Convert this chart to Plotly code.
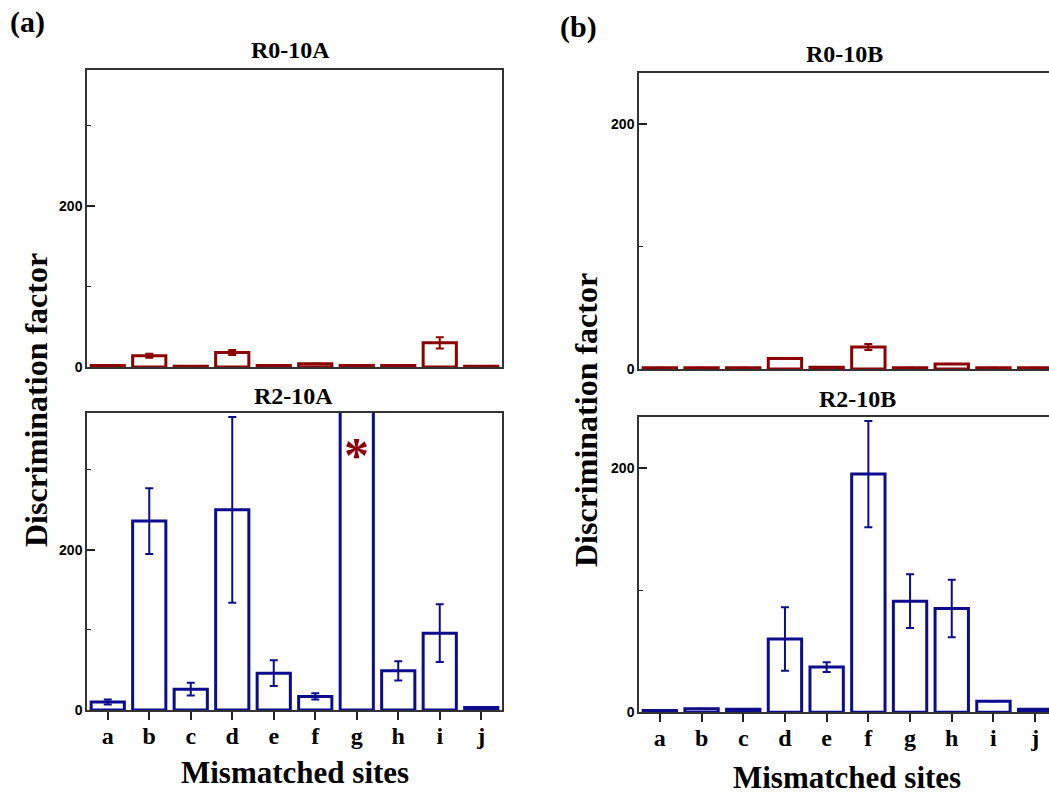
import plotly.graph_objects as go

sites = list("abcdefghij")

r0_10a = [2, 14, 1, 18, 2, 4, 2, 2, 30, 1]
r0_10a_err = [None, 2.5, None, 3, None, None, None, None, 7, None]

r2_10a = [10, 236, 26, 250, 46, 17, 600, 49, 96, 3]
r2_10a_err = [3, 41, 8, 116, 16, 4, None, 12, 36, None]

r0_10b = [1, 1, 1, 8.5, 1.5, 18, 1, 4, 1, 1]
r0_10b_err = [None, None, None, None, None, 2.5, None, None, None, None]

r2_10b = [1.5, 3, 2.5, 60, 37, 195, 91, 85, 9, 2.5]
r2_10b_err = [None, None, None, 26, 4, 43.5, 22, 23.5, None, None]

panel_titles = ["R0-10A", "R2-10A", "R0-10B", "R2-10B"]

RED = "#8B0000"
BLUE = "#0c0c8c"
W, H = 1049, 794

fig = go.Figure()

def add_bars(vals, errs, color, ax):
    fig.add_trace(go.Bar(
        x=sites, y=vals, width=0.8,
        marker=dict(color="white", line=dict(color=color, width=3)),
        error_y=dict(type="data", array=errs, visible=True, color=color,
                     thickness=2, width=4),
        xaxis="x" + ax, yaxis="y" + ax, showlegend=False,
    ))

add_bars(r0_10a, r0_10a_err, RED, "")
add_bars(r2_10a, r2_10a_err, BLUE, "2")
add_bars(r0_10b, r0_10b_err, RED, "3")
add_bars(r2_10b, r2_10b_err, BLUE, "4")
fig.data[0].update(xaxis="x", yaxis="y")

def px_x(p):
    return p / W

def px_y(p):
    return 1 - p / H

tickfont = dict(family="Liberation Sans", size=14, color="black")
xtickfont = dict(family="Liberation Serif", size=24, color="black")

def yax(dom, rng, mirror):
    return dict(domain=dom, range=rng, tickvals=[0, 200], ticktext=["<b>0</b>", "<b>200</b>"],
                ticks="inside", ticklen=8, tickwidth=1.5, tickcolor="#222",
                minor=dict(dtick=100, tick0=0, ticks="inside", ticklen=4, tickwidth=1.2, tickcolor="#222"),
                showline=True, linecolor="#333", linewidth=1.5, mirror=mirror,
                showgrid=False, zeroline=False, tickfont=tickfont, fixedrange=True,
                automargin=False)

def xax(dom, rng, anchor, labels):
    d = dict(domain=dom, range=rng, anchor=anchor, type="category",
             showline=True, linecolor="#333", linewidth=1.5, mirror=True,
             showgrid=False, zeroline=False, automargin=False)
    if labels:
        d.update(ticks="outside", ticklen=8, tickwidth=1.5, tickcolor="#222",
                 tickvals=sites, ticktext=["<b>%s</b>" % s for s in sites],
                 tickfont=xtickfont, ticklabelstandoff=-5)
    else:
        d.update(showticklabels=False, ticks="")
    return d

left_dom = [px_x(87), px_x(502)]
right_dom = [px_x(639), 1.0]
right_max = (W - 639) / 41.7 - 0.5

fig.update_layout(
    width=W, height=H, margin=dict(l=0, r=0, t=0, b=0, autoexpand=False),
    paper_bgcolor="white", plot_bgcolor="white",
    xaxis=xax(left_dom, [-0.5, 9.5], "y", False),
    yaxis=yax([px_y(367), px_y(70)], [0, 369], True) | dict(anchor="x"),
    xaxis2=xax(left_dom, [-0.5, 9.5], "y2", True),
    yaxis2=yax([px_y(710), px_y(413)], [0, 371], True) | dict(anchor="x2"),
    xaxis3=xax(right_dom, [-0.5, right_max], "y3", False),
    yaxis3=yax([px_y(369), px_y(72.7)], [0, 242], False) | dict(anchor="x3"),
    xaxis4=xax(right_dom, [-0.5, right_max], "y4", True),
    yaxis4=yax([px_y(712.3), px_y(416.7)], [0, 242], False) | dict(anchor="x4"),
    bargap=0.2,
)

serif = "Liberation Serif"
ann = []
def text(x, y, s, size, angle=0, color="black"):
    ann.append(dict(x=px_x(x), y=px_y(y), xref="paper", yref="paper", text="<b>%s</b>" % s,
                    showarrow=False, textangle=angle, xanchor="center", yanchor="middle",
                    font=dict(family=serif, size=size, color=color)))

text(27, 22, "(a)", 30)
text(578, 27, "(b)", 30)
text(290, 50, panel_titles[0], 24)
text(293, 396, panel_titles[1], 24)
text(844, 54, panel_titles[2], 24)
text(857, 399, panel_titles[3], 24)
text(36, 400, "Discrimination factor", 32, -90)
text(586, 420, "Discrimination factor", 32, -90)
text(295, 772, "Mismatched sites", 31)
text(847, 777, "Mismatched sites", 31)

ann.append(dict(x="g", y=318, xref="x2", yref="y2", text="<b>*</b>", showarrow=False,
                font=dict(family=serif, size=50, color=RED), xanchor="center", yanchor="middle"))

fig.update_layout(annotations=ann)
fig.write_html("out.html", config={"displayModeBar": False},
               post_script="document.body.style.margin='0';document.body.style.overflow='hidden';")
